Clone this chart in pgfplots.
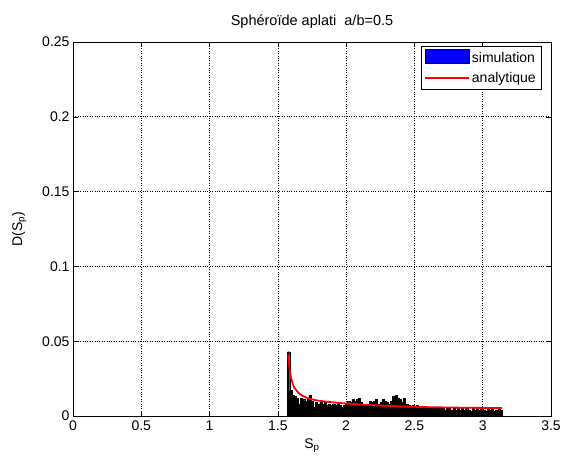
\documentclass[border=0pt]{standalone}
\usepackage{pgfplots}
\pgfplotsset{compat=1.18}
\usepackage{fontspec}
\setmainfont{Liberation Sans}
\begin{document}
\begin{tikzpicture}
\useasboundingbox (-73pt,-41pt) rectangle (490pt,416pt);
\begin{axis}[
  scale only axis,
  at={(0,0)}, anchor=south west,
  width=478pt, height=374pt,
  xmin=0, xmax=3.5, ymin=0, ymax=0.25,
  xtick={0,0.5,1,1.5,2,2.5,3,3.5},
  xticklabels={0,0.5,1,1.5,2,2.5,3,3.5},
  ytick={0,0.05,0.1,0.15,0.2,0.25},
  yticklabels={0,0.05,0.1,0.15,0.2,0.25},
  tick align=inside,
  major tick length=5pt,
  tick style={black, line width=0.5pt},
  axis line style={black, line width=0.6pt},
  grid=major,
  grid style={black, dotted, line width=0.6pt},
  ticklabel style={font=\fontsize{14}{16}\selectfont},
  xticklabel style={yshift=-1pt},
  title={Sphéroïde aplati\ \ a/b=0.5},
  title style={font=\fontsize{14.5}{16}\selectfont, yshift=4pt},
  xlabel={S$_\mathrm{p}$},
  ylabel={D(S$_\mathrm{p}$)},
  label style={font=\fontsize{14}{16}\selectfont},
  xlabel style={yshift=-1pt},
  ylabel style={yshift=9pt},
  legend style={at={(rel axis cs:0.979,0.989)}, anchor=north east,
    draw=black, font=\fontsize{14}{16}\selectfont,
    inner xsep=3pt, inner ysep=3pt, row sep=4pt},
  legend cell align=left,
]
\addlegendimage{legend image code/.code={\draw[fill=blue,draw=black,line width=0.4pt] (0pt,-5pt) rectangle (44pt,9pt);}}
\addlegendentry{simulation}
\addlegendimage{legend image code/.code={\draw[draw=red,line width=1.5pt] (0pt,0pt) -- (44pt,0pt);}}
\addlegendentry{analytique}
\addplot[ybar interval, fill=black, draw=black, line width=0.3pt, forget plot] coordinates {
(1.5708,0.043) (1.5865,0.017) (1.6022,0.014) (1.6180,0.013) (1.6336,0.012)
(1.6493,0.008) (1.6650,0.012) (1.6808,0.011) (1.6965,0.010) (1.7122,0.012)
(1.7279,0.014) (1.7436,0.010) (1.7593,0.006) (1.7750,0.009) (1.7907,0.008)
(1.8064,0.009) (1.8221,0.008) (1.8378,0.009) (1.8535,0.007) (1.8692,0.008)
(1.8850,0.007) (1.9007,0.008) (1.9164,0.007) (1.9321,0.008) (1.9478,0.007)
(1.9635,0.006) (1.9792,0.007) (1.9949,0.008) (2.0106,0.010) (2.0263,0.009)
(2.0420,0.011) (2.0577,0.010) (2.0735,0.011) (2.0892,0.012) (2.1049,0.009)
(2.1206,0.008) (2.1363,0.007) (2.1520,0.008) (2.1677,0.010) (2.1834,0.009)
(2.1991,0.010) (2.2148,0.011) (2.2305,0.008) (2.2462,0.009) (2.2619,0.011)
(2.2777,0.010) (2.2934,0.009) (2.3091,0.008) (2.3248,0.010) (2.3405,0.013)
(2.3562,0.014) (2.3719,0.012) (2.3876,0.011) (2.4033,0.009) (2.4190,0.012)
(2.4347,0.008) (2.4504,0.007) (2.4662,0.006) (2.4819,0.007) (2.4976,0.006)
(2.5133,0.007) (2.5290,0.006) (2.5447,0.006) (2.5604,0.005) (2.5761,0.006)
(2.5918,0.005) (2.6075,0.006) (2.6232,0.005) (2.6389,0.006) (2.6546,0.005)
(2.6704,0.005) (2.6861,0.006) (2.7018,0.005) (2.7175,0.004) (2.7332,0.006)
(2.7489,0.005) (2.7646,0.004) (2.7803,0.005) (2.7960,0.004) (2.8117,0.005)
(2.8274,0.004) (2.8431,0.006) (2.8589,0.004) (2.8746,0.005) (2.8903,0.004)
(2.9060,0.003) (2.9217,0.005) (2.9374,0.004) (2.9531,0.005) (2.9688,0.004)
(2.9845,0.005) (3.0002,0.004) (3.0159,0.003) (3.0316,0.005) (3.0473,0.004)
(3.0631,0.005) (3.0788,0.003) (3.0945,0.004) (3.1102,0.005) (3.1259,0.004)
(3.1416,0)
};
\addplot[red, line width=1.8pt, forget plot] coordinates {
(1.575,0.041) (1.580,0.036) (1.590,0.029) (1.600,0.024) (1.620,0.019)
(1.650,0.0155) (1.680,0.0135) (1.720,0.0118) (1.780,0.0105) (1.850,0.0096)
(1.950,0.0087) (2.050,0.0080) (2.200,0.0072) (2.400,0.0064) (2.600,0.0059)
(2.800,0.0056) (3.000,0.0054) (3.140,0.0053)
};
\end{axis}
\end{tikzpicture}
\end{document}
